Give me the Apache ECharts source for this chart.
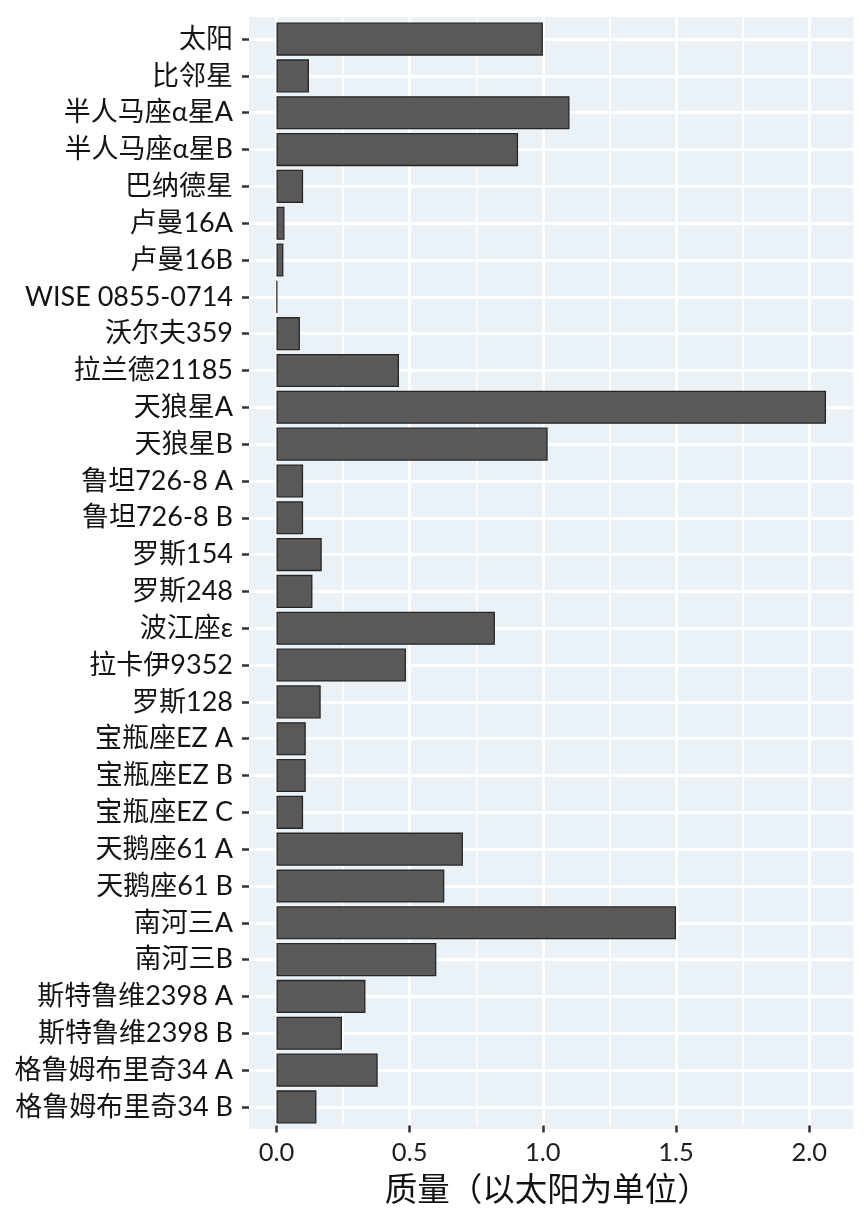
<!DOCTYPE html>
<html>
<head>
<meta charset="utf-8">
<title>恒星质量</title>
<script src="https://cdn.jsdelivr.net/npm/echarts@6/dist/echarts.min.js"></script>
<style>
    html, body { margin: 0; padding: 0; background: #fff; }
    #chart { width: 864px; height: 1210px; }
</style>
</head>
<body>
<div id="chart"></div>
<script>
// Data (mass in solar masses)
const starNames = [
    '太阳', '比邻星', '半人马座α星A', '半人马座α星B', '巴纳德星',
    '卢曼16A', '卢曼16B', 'WISE 0855-0714', '沃尔夫359', '拉兰德21185',
    '天狼星A', '天狼星B', '鲁坦726-8 A', '鲁坦726-8 B', '罗斯154',
    '罗斯248', '波江座ε', '拉卡伊9352', '罗斯128', '宝瓶座EZ A',
    '宝瓶座EZ B', '宝瓶座EZ C', '天鹅座61 A', '天鹅座61 B', '南河三A',
    '南河三B', '斯特鲁维2398 A', '斯特鲁维2398 B', '格鲁姆布里奇34 A', '格鲁姆布里奇34 B'
];
const starMasses = [
    1.0, 0.122, 1.1, 0.907, 0.1,
    0.03, 0.026, 0.003, 0.088, 0.46,
    2.063, 1.018, 0.1, 0.1, 0.17,
    0.135, 0.82, 0.486, 0.166, 0.11,
    0.11, 0.1, 0.7, 0.63, 1.5,
    0.6, 0.334, 0.246, 0.38, 0.15
];
const xTickStep = 0.5;
const xTickMax = 2.0;
const xTitle = '质量（以太阳为单位）';

// Layout of the panel (ggplot-like: 5% expansion on the value axis, 0.6 row on the discrete one)
const panel = { left: 249, right: 853.5, top: 17, bottom: 1129 };
const maxMass = Math.max(...starMasses);
const lo = -0.05 * maxMass, hi = 1.05 * maxMass;
const pxPerUnit = (panel.right - panel.left) / (hi - lo);
const zeroX = panel.left - lo * pxPerUnit;
const tickEndX = zeroX + xTickMax * pxPerUnit;
const rowH = (panel.bottom - panel.top) / (starNames.length - 1 + 1.2);
const barTop = panel.top + 0.1 * rowH;
const barBottom = panel.bottom - 0.1 * rowH;

const latin = "Lato, 'Noto Sans CJK SC', sans-serif";
const cjk = "'Noto Sans CJK SC', Lato, sans-serif";

const chart = echarts.init(document.getElementById('chart'), null, { renderer: 'canvas' });

chart.setOption({
    animation: false,
    backgroundColor: '#ffffff',
    grid: [
        // panel background
        {
            left: panel.left, top: panel.top,
            width: panel.right - panel.left, height: panel.bottom - panel.top,
            show: true, backgroundColor: '#EAF1F7', borderWidth: 0
        },
        // vertical grid lines + x axis
        {
            left: zeroX, top: panel.top,
            width: tickEndX - zeroX, height: panel.bottom - panel.top
        },
        // bars + category axis
        {
            left: panel.left, top: barTop,
            width: panel.right - panel.left, height: barBottom - barTop
        }
    ],
    xAxis: [
        { gridIndex: 0, type: 'value', min: 0, max: 1, show: false },
        {
            gridIndex: 1, type: 'value', min: 0, max: xTickMax, interval: xTickStep,
            axisLine: { show: false, onZero: false },
            axisTick: { show: true, length: 7, lineStyle: { color: '#333', width: 2.5 } },
            axisLabel: {
                fontSize: 25.5, color: '#1e1e1e', margin: 15, fontFamily: latin,
                formatter: v => v.toFixed(1)
            },
            splitLine: { show: true, lineStyle: { color: '#ffffff', width: 2.8 } },
            minorTick: { show: false, splitNumber: 2 },
            minorSplitLine: { show: true, lineStyle: { color: '#ffffff', width: 1.6 } },
            name: xTitle,
            nameLocation: 'middle',
            nameGap: 47,
            nameTextStyle: { fontSize: 32.5, color: '#111', fontFamily: cjk, padding: [0, 0, 0, 9] }
        },
        { gridIndex: 2, type: 'value', min: lo, max: hi, show: false, splitLine: { show: false } }
    ],
    yAxis: [
        { gridIndex: 0, type: 'value', show: false },
        { gridIndex: 1, type: 'value', show: false },
        {
            gridIndex: 2, type: 'category', inverse: true, data: starNames,
            axisLine: { show: false, onZero: false },
            axisTick: { show: true, alignWithLabel: true, length: 7, lineStyle: { color: '#333', width: 2.5 } },
            axisLabel: { fontSize: 27, color: '#141414', margin: 16, fontFamily: latin, interval: 0 },
            splitLine: { show: true, alignWithLabel: true, interval: 0, lineStyle: { color: '#ffffff', width: 2.8 } }
        }
    ],
    series: [{
        type: 'bar',
        xAxisIndex: 2,
        yAxisIndex: 2,
        data: starMasses,
        barWidth: '90%',
        itemStyle: { color: '#595959', borderColor: '#262626', borderWidth: 1.3 }
    }]
});

window.addEventListener('resize', () => chart.resize());
</script>
</body>
</html>
